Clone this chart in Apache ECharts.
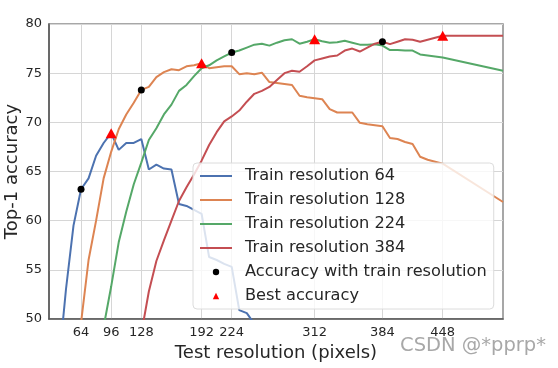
<!DOCTYPE html>
<html><head><meta charset="utf-8">
<script src="https://cdn.jsdelivr.net/npm/echarts@6/dist/echarts.min.js"></script>
<style>html,body{margin:0;padding:0;background:#fff}#c{width:558px;height:368px}</style>
</head><body><div id="c"></div>
<script>
const xTicks = [64, 96, 128, 192, 224, 312, 384, 448];
const seriesNames = ['Train resolution 64', 'Train resolution 128', 'Train resolution 224', 'Train resolution 384'];

const res64 = [40,48,56,64,72,80,88,96,104,112,120,128,136,144,152,160,168,176,184,192,200,208,216,224,232,240,248,256];
const acc64 = [45,53,59.5,63.2,64.3,66.6,67.9,68.9,67.2,67.9,67.9,68.3,65.2,65.7,65.3,65.2,61.7,61.5,61.1,60.7,56.3,56.0,55.6,55.3,50.9,50.6,49.5,47];

const res128 = [56,64,72,80,88,96,104,112,120,128,136,144,152,160,168,176,184,192,200,208,216,224,232,240,248,256,264,272,280,288,296,304,312,320,328,336,344,352,360,368,376,384,392,400,408,416,424,432,440,448,512];
const acc128 = [42,49.6,56.0,60.0,64.3,67.0,69.3,70.8,72.0,73.3,73.6,74.6,75.1,75.4,75.3,75.7,75.8,76.0,75.5,75.6,75.7,75.7,74.9,75.0,74.9,75.05,74.1,74.0,73.9,73.8,72.7,72.55,72.45,72.35,71.35,71.0,71.0,71.0,69.95,69.8,69.7,69.6,68.4,68.3,68.0,67.8,66.5,66.2,66.0,65.8,61.9];

const res224 = [80,88,96,104,112,120,128,136,144,152,160,168,176,184,192,200,208,216,224,232,240,248,256,264,272,280,288,296,304,312,320,328,336,344,352,360,368,376,384,392,400,408,416,424,432,440,448,512];
const acc224 = [44.5,49.2,53.3,57.8,60.9,63.7,65.9,68.2,69.4,70.8,71.8,73.2,73.8,74.7,75.5,75.8,76.3,76.7,77.1,77.3,77.6,77.9,78.0,77.8,78.1,78.35,78.45,78.0,78.2,78.45,78.25,78.1,78.15,78.3,78.1,77.9,77.9,77.95,77.8,77.35,77.35,77.3,77.3,76.9,76.8,76.7,76.6,75.25];

const res384 = [120,128,136,144,152,160,168,176,184,192,200,208,216,224,232,240,248,256,264,272,280,288,296,304,312,320,328,336,344,352,360,368,376,384,392,400,408,416,424,432,440,448,512];
const acc384 = [45,48.5,52.8,55.9,58.0,60.0,62.0,63.4,64.7,66.1,67.7,69.0,70.1,70.6,71.2,72.1,72.9,73.2,73.6,74.3,75.0,75.25,75.15,75.7,76.3,76.5,76.7,76.8,77.3,77.5,77.2,77.6,78.0,78.2,77.95,78.2,78.45,78.4,78.2,78.4,78.6,78.8,78.8];

const trainRes = [64, 128, 224, 384];
const trainAcc = [63.2, 73.3, 77.1, 78.2];
const bestRes = [96, 192, 312, 448];
const bestAcc = [68.9, 76.0, 78.45, 78.8];

const colors = ['#4C72B0', '#DD8452', '#55A868', '#C44E52'];
const zip = (xs, ys) => xs.map((x, i) => [x, ys[i]]);
const FONT = 'DejaVu Sans';
const TXT = '#262626';

const lineData = [zip(res64, acc64), zip(res128, acc128), zip(res224, acc224), zip(res384, acc384)];

const series = lineData.map((d, i) => ({
  name: seriesNames[i], type: 'line', data: d, symbol: 'none',
  lineStyle: { color: colors[i], width: 2 }, itemStyle: { color: colors[i] },
  z: 2 + i * 0.01, silent: true
}));
series.push({
  name: 'Accuracy with train resolution', type: 'line', data: zip(trainRes, trainAcc),
  symbol: 'circle', symbolSize: 7, showSymbol: true,
  lineStyle: { width: 0, opacity: 0 }, itemStyle: { color: '#000' }, z: 5, silent: true
});
series.push({
  name: 'Best accuracy', type: 'line', data: zip(bestRes, bestAcc),
  symbol: 'triangle', symbolSize: [11, 10], showSymbol: true,
  lineStyle: { width: 0, opacity: 0 }, itemStyle: { color: '#ff0000' }, z: 5, silent: true
});

const lineIcon = 'path://M0,0H32V2H0Z';
const legendData = seriesNames.map(n => ({ name: n, icon: lineIcon }))
  .concat([{ name: 'Accuracy with train resolution' }, { name: 'Best accuracy' }]);

const chart = echarts.init(document.getElementById('c'), null, { renderer: 'canvas' });
chart.setOption({
  animation: false,
  backgroundColor: '#fff',
  textStyle: { fontFamily: FONT },
  grid: { left: 49, right: 55, top: 24, bottom: 49, containLabel: false, outerBoundsMode: 'none',
          show: true, borderColor: '#8a8a8a', borderWidth: 1.5 },
  xAxis: {
    type: 'value', min: 30, max: 512,
    name: 'Test resolution (pixels)', nameLocation: 'middle', nameGap: 22,
    nameTextStyle: { fontSize: 18, color: TXT, fontFamily: FONT },
    axisLine: { show: true, lineStyle: { color: '#555', width: 1.5 } },
    axisTick: { show: false, customValues: xTicks },
    axisLabel: { customValues: xTicks, fontSize: 13, color: TXT, fontFamily: FONT, margin: 7 },
    splitLine: { show: true, lineStyle: { color: '#d6d6d6', width: 1 } }
  },
  yAxis: {
    type: 'value', min: 50, max: 80, interval: 5,
    name: 'Top-1 accuracy', nameLocation: 'middle', nameGap: 28, nameMoveOverlap: false,
    nameTextStyle: { fontSize: 18, color: TXT, fontFamily: FONT },
    axisLine: { show: true, lineStyle: { color: '#555', width: 1.5 } },
    axisTick: { show: false },
    axisLabel: { fontSize: 13, color: TXT, fontFamily: FONT, margin: 7 },
    splitLine: { show: true, lineStyle: { color: '#d6d6d6', width: 1 } }
  },
  legend: {
    orient: 'vertical', left: 193, top: 163,
    padding: [5, 7, 5, 7],
    itemWidth: 32, itemHeight: 8, itemGap: 8,
    backgroundColor: 'rgba(255,255,255,0.8)', borderColor: '#dcdcdc', borderWidth: 1, borderRadius: 4,
    textStyle: { fontSize: 16.2, color: TXT, fontFamily: FONT, lineHeight: 16, padding: [0, 0, 0, 8] },
    data: legendData,
    selectedMode: false
  },
  graphic: [{
    type: 'text', right: 12, top: 336,
    style: { text: 'CSDN @*pprp*', fill: '#a8a8a8', fontSize: 19.5, fontFamily: FONT }
  }],
  series: series
});
</script>
</body></html>
